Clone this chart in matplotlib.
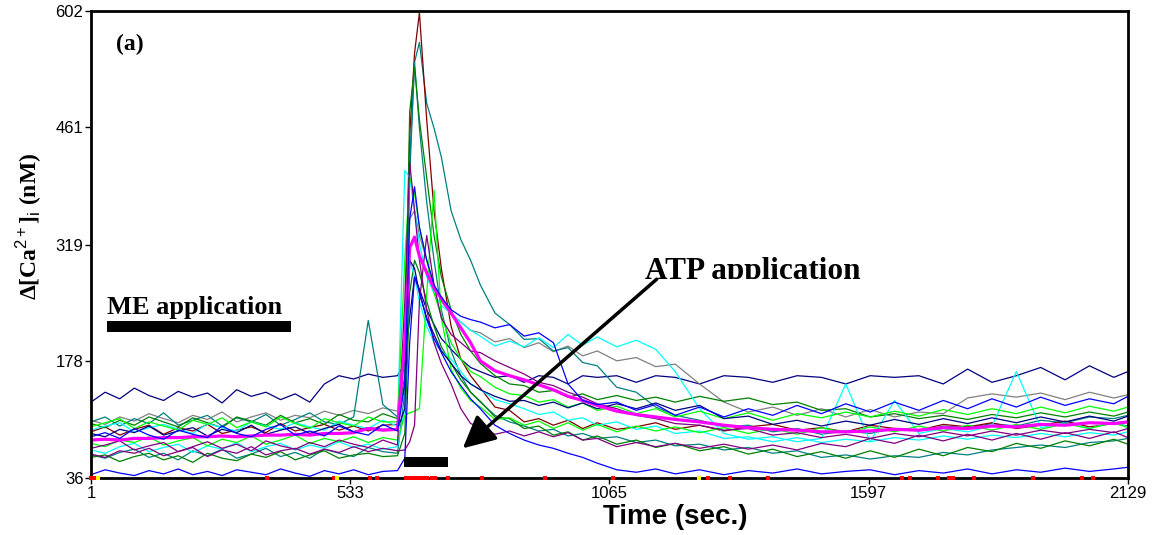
import numpy as np
import matplotlib
matplotlib.use("Agg")
import matplotlib.pyplot as plt
from matplotlib.patches import Rectangle
from matplotlib.transforms import Bbox, TransformedBbox

plt.rcParams['font.family'] = ['Liberation Sans', 'DejaVu Sans']
plt.rcParams['mathtext.fontset'] = 'custom'
plt.rcParams['mathtext.rm'] = 'Liberation Sans'
plt.rcParams['mathtext.it'] = 'Liberation Sans:italic'
plt.rcParams['mathtext.bf'] = 'Liberation Sans:bold'

# time grid (sec.), shared by every trace
t = [1, 30, 60, 90, 120, 150, 180, 210, 240, 270,
     300, 330, 360, 390, 420, 450, 480, 510, 540, 570,
     600, 630, 645, 655, 665, 675, 690, 705, 720, 740,
     760, 780, 800, 830, 860, 890, 920, 950, 980, 1010,
     1040, 1080, 1120, 1160, 1200, 1250, 1300, 1350, 1400, 1450,
     1500, 1550, 1600, 1650, 1700, 1750, 1800, 1850, 1900, 1950,
     2000, 2050, 2100, 2129]

# single-cell traces, delta [Ca2+]i (nM)
navy_hi = [128, 140, 132, 145, 136, 130, 141, 134, 139, 127, 143, 135, 140, 131, 138, 128, 150, 160, 156, 162, 158, 160,
           175, 230, 280, 265, 240, 222, 205, 192, 180, 170,
           165, 158, 160, 152, 160, 158, 150, 160, 158, 160,
           152, 160, 158, 150, 160, 158, 152, 160, 158, 150,
           160, 158, 160, 150, 168, 152, 160, 170, 155, 172,
           158, 165]
blue_lo = [40, 46, 42, 39, 45, 41, 47, 40, 44, 39, 46, 43, 40, 47, 42, 38, 45, 41, 46, 40, 44, 45,
           60, 200, 280, 262, 228, 205, 188, 165, 148, 132,
           120, 100, 90, 82, 76, 72, 66, 61, 54, 46,
           43, 47, 41, 46, 40, 45, 42, 47, 41, 44,
           46, 40, 45, 42, 47, 41, 46, 43, 48, 44,
           47, 49]
teal_slow = [104, 110, 99, 108, 102, 115, 100, 106, 112, 99, 109, 104, 113, 100, 107, 115, 104, 101, 110, 227, 125, 110,
             150, 400, 540, 564, 490, 460, 425, 360, 325, 300,
             270, 236, 222, 204, 205, 190, 194, 176, 172, 146,
             140, 122, 112, 106, 98, 100, 92, 96, 89, 93,
             90, 96, 93, 99, 97, 102, 99, 106, 103, 110,
             108, 112]
maroon = [92, 98, 88, 95, 100, 89, 97, 93, 101, 90, 94, 98, 91, 102, 93, 97, 101, 94, 99, 93, 100, 101,
          200, 450, 551, 600, 470, 360, 290, 220, 180, 160,
          145, 122, 118, 104, 108, 100, 106, 96, 103, 95,
          98, 103, 95, 100, 93, 98, 101, 94, 97, 92,
          100, 96, 94, 101, 98, 103, 96, 100, 105, 98,
          102, 99]
teal_lo = [64, 60, 67, 71, 61, 66, 58, 69, 63, 71, 60, 65, 72, 62, 67, 60, 71, 66, 62, 73, 68, 66,
           140, 420, 540, 460, 370, 300, 240, 190, 160, 140,
           128, 112, 104, 99, 93, 95, 87, 90, 84, 86,
           79, 82, 75, 77, 70, 73, 66, 69, 61, 64,
           59, 63, 61, 67, 64, 70, 73, 76, 73, 79,
           81, 84]
green_hi = [102, 97, 106, 100, 110, 104, 98, 109, 103, 97, 110, 105, 100, 112, 103, 108, 101, 113, 106, 104, 114, 108,
            160, 480, 534, 470, 400, 330, 280, 240, 210, 190,
            175, 160, 150, 148, 140, 142, 134, 138, 131, 136,
            130, 134, 128, 135, 129, 133, 125, 128, 118, 120,
            110, 114, 108, 112, 107, 113, 109, 115, 110, 116,
            111, 116]
green_lo = [61, 64, 56, 62, 66, 58, 63, 55, 66, 60, 57, 65, 61, 68, 58, 64, 69, 60, 64, 66, 62, 63,
            90, 260, 300, 285, 250, 220, 195, 175, 155, 140,
            129, 110, 108, 96, 99, 88, 92, 82, 87, 77,
            82, 73, 78, 69, 74, 65, 71, 62, 68, 60,
            69, 61, 71, 63, 73, 68, 78, 72, 81, 75,
            83, 77]
lime_hi = [98, 103, 108, 96, 104, 99, 94, 106, 101, 109, 97, 104, 98, 110, 102, 96, 108, 103, 99, 110, 104, 104,
           300, 400, 380, 340, 300, 260, 232, 200, 180, 165,
           159, 146, 138, 136, 128, 131, 122, 127, 118, 123,
           114, 120, 110, 117, 108, 115, 106, 114, 109, 116,
           110, 117, 111, 119, 113, 120, 114, 122, 115, 123,
           117, 122]
lime_late = [78, 74, 82, 79, 86, 76, 81, 85, 75, 83, 79, 87, 77, 82, 88, 78, 84, 80, 86, 79, 85, 82,
             112, 115, 117, 120, 260, 385, 230, 168, 145, 130,
             122, 107, 109, 100, 105, 96, 103, 94, 101, 92,
             99, 93, 98, 91, 97, 90, 96, 89, 97, 91,
             98, 92, 99, 93, 100, 94, 101, 95, 102, 96,
             103, 97]
cyan_hi = [94, 99, 103, 92, 97, 101, 95, 90, 102, 97, 93, 104, 99, 95, 103, 98, 94, 105, 100, 96, 106, 99,
           409, 400, 360, 320, 280, 260, 245, 235, 225, 215,
           208, 196, 202, 195, 206, 194, 210, 197, 207, 195,
           203, 192, 165, 120, 90, 83, 86, 80, 84, 150,
           80, 130, 90, 96, 92, 99, 165, 97, 103, 96,
           104, 98]
cyan_lo = [70, 66, 74, 78, 68, 73, 77, 67, 75, 71, 79, 68, 74, 78, 70, 76, 72, 80, 73, 77, 71, 74,
           120, 300, 280, 250, 220, 200, 190, 180, 165, 150,
           143, 131, 126, 120, 113, 116, 106, 109, 100, 104,
           95, 99, 90, 93, 84, 86, 80, 85, 79, 83,
           80, 85, 82, 87, 83, 88, 85, 90, 86, 91,
           88, 92]
gray = [106, 101, 110, 105, 114, 108, 103, 112, 107, 116, 104, 110, 115, 106, 112, 109, 117, 112, 118, 114, 121, 117,
        200, 350, 360, 330, 300, 270, 250, 235, 225, 215,
        212, 201, 205, 194, 200, 189, 196, 184, 190, 178,
        182, 171, 174, 150, 128, 116, 122, 112, 120, 110,
        119, 110, 116, 114, 133, 138, 134, 139, 131, 140,
        133, 137]
purple_lo = [72, 76, 81, 70, 75, 79, 68, 74, 80, 72, 77, 69, 81, 75, 71, 79, 74, 82, 77, 73, 82, 76,
             250, 419, 360, 300, 240, 200, 175, 150, 120, 102,
             98, 89, 93, 87, 92, 86, 91, 82, 84, 74,
             79, 74, 78, 72, 77, 71, 76, 70, 78, 74,
             84, 78, 88, 81, 89, 82, 90, 83, 91, 84,
             92, 85]
purple_late = [65, 61, 69, 66, 72, 63, 68, 73, 62, 70, 66, 74, 64, 69, 72, 65, 71, 67, 74, 68, 72, 69,
               70, 80, 100, 250, 330, 270, 230, 210, 200, 190,
               188, 178, 170, 162, 152, 148, 140, 134, 126, 120,
               112, 108, 102, 100, 94, 96, 88, 91, 85, 89,
               84, 90, 86, 92, 87, 93, 88, 94, 90, 95,
               91, 96]
blue_mid = [86, 91, 84, 96, 88, 83, 94, 89, 85, 99, 90, 86, 95, 101, 88, 93, 87, 99, 92, 88, 101, 93,
            150, 350, 389, 340, 300, 270, 255, 240, 232, 228,
            225, 218, 222, 208, 212, 200, 150, 130, 125, 128,
            118, 125, 112, 122, 110, 120, 112, 124, 114, 126,
            116, 128, 118, 130, 120, 132, 122, 134, 124, 132,
            126, 135]
navy_mid = [90, 86, 95, 91, 99, 88, 93, 97, 87, 95, 91, 100, 89, 94, 98, 90, 96, 101, 92, 97, 95, 95,
            120, 300, 290, 260, 230, 210, 190, 175, 160, 150,
            143, 135, 129, 130, 124, 128, 121, 127, 120, 126,
            120, 127, 118, 124, 108, 111, 101, 106, 99, 105,
            100, 107, 101, 108, 102, 109, 103, 110, 104, 111,
            105, 111]
# mean response
mean_trace = [82, 83, 82, 84, 84, 85, 85, 86, 86, 87, 86, 87, 88, 88, 89, 88, 90, 90, 91, 96, 94, 95,
              200, 315, 328, 305, 285, 266, 254, 236, 218, 200,
              178, 166, 160, 155, 149, 143, 135, 130, 124, 117,
              113, 110, 107, 104, 100, 97, 95, 94, 92, 92,
              93, 95, 94, 97, 96, 99, 98, 101, 100, 103,
              102, 104]

# event markers along the time axis
red_marks = [1, 8, 362, 500, 573, 588, 648, 655, 662, 668, 675, 682, 690, 700, 708, 733, 803,
             933, 1072, 1268, 1313, 1390, 1665, 1682, 1739, 1762, 1770, 1813, 1934, 2035, 2057]
yellow_marks = [15, 506, 1249]

# application periods (sec.)
me_period = (34, 411)
atp_period = (643, 733)

xticks = [1, 533, 1065, 1597, 2129]
yticks = [36, 178, 319, 461, 602]

fig = plt.figure(figsize=(11.59, 5.35), dpi=100)
ax = fig.add_axes([0.0785, 0.1065, 0.8947, 0.8729])

traces = [
    (navy_hi, '#000080'), (gray, '#808080'), (teal_slow, '#008080'), (maroon, '#800000'),
    (teal_lo, '#008080'), (green_hi, '#008000'), (green_lo, '#008000'), (cyan_hi, '#00ffff'),
    (cyan_lo, '#00ffff'), (lime_hi, '#00ff00'), (lime_late, '#00ff00'), (purple_lo, '#800080'),
    (purple_late, '#800080'), (navy_mid, '#000080'), (blue_lo, '#0000ff'),
]
for y, c in traces:
    ax.plot(t, y, color=c, lw=0.9)
ax.plot(t, mean_trace, color='#ff00ff', lw=2.3)
ax.plot(t, blue_mid, color='#0000ff', lw=0.9)

ax.plot(red_marks, np.full(len(red_marks), 36), 's', color='red', ms=3.5, mew=0,
        clip_on=False, zorder=5)
ax.plot(yellow_marks, np.full(len(yellow_marks), 36), 's', color='yellow', ms=3.5, mew=0,
        clip_on=False, zorder=5)

ax.set_xlim(1, 2129)
ax.set_ylim(36, 602)
ax.set_xticks(xticks)
ax.set_yticks(yticks)
ax.tick_params(direction='out', length=4, width=1, labelsize=12, pad=1.5)
for s in ax.spines.values():
    s.set_linewidth(2)

serif = ['Liberation Serif', 'DejaVu Serif']

# ME application bar
ax.add_patch(Rectangle((me_period[0], 213), me_period[1] - me_period[0], 13,
                       color='black', lw=0))
ax.text(me_period[0], 235, 'ME application', family=serif, weight='bold',
        fontsize=19, va='baseline', ha='left')

# ATP application bar
ax.add_patch(Rectangle((atp_period[0], 49), atp_period[1] - atp_period[0], 13,
                       color='black', lw=0, zorder=4))
atp_txt = ax.text(1138, 277, 'ATP application', family=serif, weight='bold',
                  fontsize=22.5, va='baseline', ha='left')
atp_txt.set_clip_box(TransformedBbox(Bbox([[1, 277], [2129, 602]]), ax.transData))
atp_txt.set_clip_on(True)
ax.annotate('', xy=(764, 72), xytext=(1162, 277),
            arrowprops=dict(arrowstyle='-|>,head_length=0.9,head_width=0.45',
                            lw=2.5, color='black', mutation_scale=22,
                            shrinkA=0, shrinkB=0))

ax.text(52, 561, '(a)', family=serif, weight='bold', fontsize=17, va='center', ha='left')

fig.text(29 / 1159, 1 - 226 / 535, 'Δ[Ca$^{2+}$]$_{\\mathrm{i}}$ (nM)', family=serif,
         weight='bold', fontsize=17, rotation=90, ha='center', va='center')
fig.text(675 / 1159, 1 - 517 / 535, 'Time (sec.)', weight='bold', fontsize=20,
         ha='center', va='center')

fig.savefig('out.png', dpi=100)
